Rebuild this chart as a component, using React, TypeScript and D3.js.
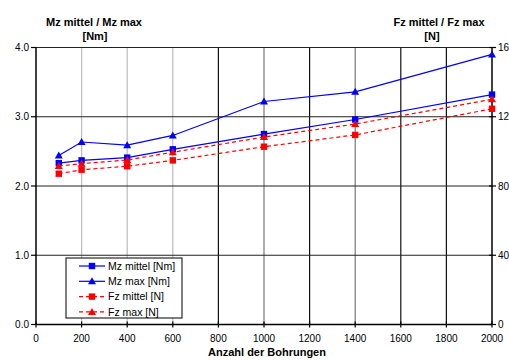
import React from "react";
import * as d3 from "d3";

const xValues = [100, 200, 400, 600, 1000, 1400, 2000];
const mzMittel = [2.33, 2.37, 2.41, 2.53, 2.75, 2.96, 3.32];
const mzMax = [2.44, 2.635, 2.59, 2.73, 3.22, 3.36, 3.9];
const fzMittel = [87.1, 89.4, 91.4, 94.8, 102.7, 109.5, 124.6];
const fzMax = [91.6, 92.9, 95.0, 99.5, 108.3, 115.8, 130.1];
const xTicks = [0, 200, 400, 600, 800, 1000, 1200, 1400, 1600, 1800, 2000];
const leftTicks = [0, 1, 2, 3, 4];
const rightTicks = [0, 40, 80, 120, 160];
const seriesNames = ["Mz mittel [Nm]", "Mz max [Nm]", "Fz mittel [N]", "Fz max [N]"];

const W = 509, H = 361;
const x = d3.scaleLinear().domain([0, 2000]).range([36, 492]);
const yL = d3.scaleLinear().domain([0, 4]).range([324.5, 47.5]);
const yR = d3.scaleLinear().domain([0, 160]).range([324.5, 47.5]);

const font = "'Liberation Sans', Arial, sans-serif";

const gridColor = (v: number) => {
  if (v === 200 || v === 400 || v === 600) return "#bbbbbb";
  if (v === 1000 || v === 1400) return "#777777";
  return "#111111";
};

function Marker({ type, cx, cy, color }: { type: string; cx: number; cy: number; color: string }) {
  if (type === "square") return <rect x={cx - 3.2} y={cy - 3.2} width={6.4} height={6.4} fill={color} />;
  const s = 4;
  return <path d={`M${cx},${cy - s} L${cx + s},${cy + s * 0.75} L${cx - s},${cy + s * 0.75} Z`} fill={color} />;
}

export default function App() {
  const series = [
    { name: seriesNames[0], vals: mzMittel, y: yL, color: "#0000ff", dash: undefined, marker: "square" },
    { name: seriesNames[1], vals: mzMax, y: yL, color: "#0000ff", dash: undefined, marker: "triangle" },
    { name: seriesNames[2], vals: fzMittel, y: yR, color: "#ff0000", dash: "4,3", marker: "square" },
    { name: seriesNames[3], vals: fzMax, y: yR, color: "#ff0000", dash: "4,3", marker: "triangle" },
  ];
  const x0 = x(0), x1 = x(2000), yb = yL(0), yt = yL(4);
  return (
    <svg width={W} height={H} style={{ position: "absolute", left: 0, top: 0, background: "#fff" }} fontFamily={font}>
      {/* vertical grid */}
      {xTicks.filter(t => t > 0 && t < 2000).map(t => (
        <line key={"vg" + t} x1={x(t)} x2={x(t)} y1={yt} y2={yb} stroke={gridColor(t)} strokeWidth={1.2} />
      ))}
      {/* horizontal grid */}
      {leftTicks.filter(t => t > 0).map(t => (
        <line key={"hg" + t} x1={x0} x2={x1} y1={yL(t)} y2={yL(t)} stroke="#222" strokeWidth={1.2} />
      ))}
      {/* axes */}
      <line x1={x0} x2={x0} y1={yt} y2={yb} stroke="#000" strokeWidth={1.5} />
      <line x1={x1} x2={x1} y1={yt} y2={yb} stroke="#000" strokeWidth={1.5} />
      <line x1={x0} x2={x1} y1={yb} y2={yb} stroke="#000" strokeWidth={1.5} />
      {leftTicks.map(t => (
        <g key={"lt" + t}>
          <line x1={x0 - 5} x2={x0} y1={yL(t)} y2={yL(t)} stroke="#000" strokeWidth={1.2} />
          <text x={x0 - 7} y={yL(t) + 3.5} fontSize={10} textAnchor="end" fill="#000">{d3.format(".1f")(t)}</text>
        </g>
      ))}
      {rightTicks.map(t => (
        <g key={"rt" + t}>
          <line x1={x1 - 3} x2={x1 + 4} y1={yR(t)} y2={yR(t)} stroke="#000" strokeWidth={1.2} />
          <text x={x1 + 6} y={yR(t) + 3.5} fontSize={10} textAnchor="start" fill="#000">{t}</text>
        </g>
      ))}
      {xTicks.map(t => (
        <g key={"xt" + t}>
          <line x1={x(t)} x2={x(t)} y1={yb - 3} y2={yb + 3} stroke="#000" strokeWidth={1.2} />
          <text x={x(t)} y={341.5} fontSize={10} textAnchor="middle" fill="#000">{t}</text>
        </g>
      ))}
      {/* series */}
      {series.map(s => {
        const line = d3.line<number>().x((_, i) => x(xValues[i])).y(v => s.y(v));
        return (
          <g key={s.name}>
            <path d={line(s.vals) || ""} fill="none" stroke={s.color} strokeWidth={1.2} strokeDasharray={s.dash} />
            {s.vals.map((v, i) => (
              <Marker key={i} type={s.marker} cx={x(xValues[i])} cy={s.y(v)} color={s.color} />
            ))}
          </g>
        );
      })}
      {/* legend */}
      <rect x={66} y={258} width={116} height={60} fill="#fff" stroke="#000" strokeWidth={1} />
      {series.map((s, i) => {
        const ly = 266 + i * 15.3;
        return (
          <g key={"lg" + i}>
            <line x1={79} x2={105} y1={ly} y2={ly} stroke={s.color} strokeWidth={1.2} strokeDasharray={s.dash} />
            <Marker type={s.marker} cx={92} cy={ly} color={s.color} />
            <text x={108} y={ly + 3.8} fontSize={10.5} fill="#000">{s.name}</text>
          </g>
        );
      })}
      {/* titles */}
      <text x={94} y={25.5} fontSize={11} fontWeight="bold" textAnchor="middle">Mz mittel / Mz max</text>
      <text x={95} y={40} fontSize={11} fontWeight="bold" textAnchor="middle">[Nm]</text>
      <text x={439} y={25.5} fontSize={11} fontWeight="bold" textAnchor="middle">Fz mittel / Fz max</text>
      <text x={432} y={40} fontSize={11} fontWeight="bold" textAnchor="middle">[N]</text>
      <text x={267} y={356} fontSize={11} fontWeight="bold" textAnchor="middle">Anzahl der Bohrungen</text>
    </svg>
  );
}
